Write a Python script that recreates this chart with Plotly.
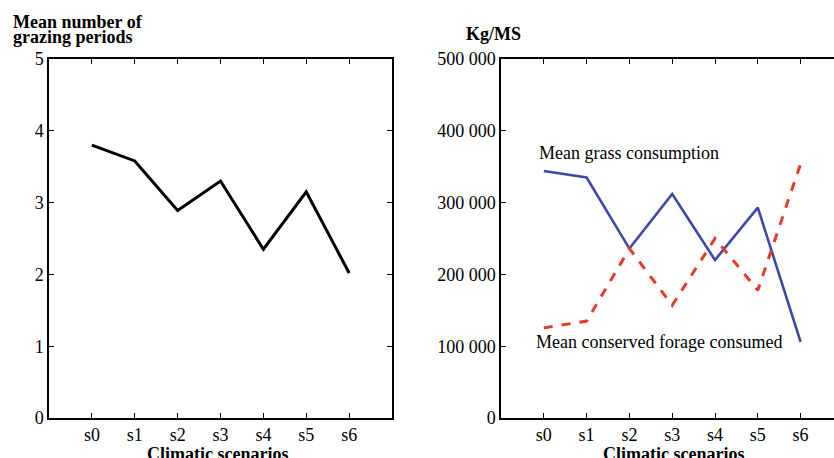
import plotly.graph_objects as go

scenarios = ["s0", "s1", "s2", "s3", "s4", "s5", "s6"]
grazing_periods = [3.80, 3.58, 2.89, 3.30, 2.35, 3.15, 2.02]
grass_consumption = [344000, 335000, 236000, 312000, 220000, 293000, 106000]
forage_consumed = [125500, 135000, 236000, 157000, 250000, 178000, 354000]
y1_ticks = [0, 1, 2, 3, 4, 5]
y2_ticks = [0, 100000, 200000, 300000, 400000, 500000]
y2_labels = ["0", "100 000", "200 000", "300 000", "400 000", "500 000"]

xpos = list(range(len(scenarios)))
W, H = 834, 458
FONT = "Liberation Serif"
ML, MR, MT = 49, 0, 59
MB = H - 418
PW = W - ML - MR
PH = H - MT - MB


def px(xp):
    return (xp - ML) / PW


def py(yp):
    return 1 - (yp - MT) / PH


fig = go.Figure()
fig.add_trace(go.Scatter(x=xpos, y=grazing_periods, mode="lines",
                         line=dict(color="black", width=3), xaxis="x", yaxis="y"))
fig.add_trace(go.Scatter(x=xpos, y=grass_consumption, mode="lines",
                         line=dict(color="#3F48A8", width=2.6), xaxis="x2", yaxis="y2"))
fig.add_trace(go.Scatter(x=xpos, y=forage_consumed, mode="lines",
                         line=dict(color="#E63A2A", width=3, dash="dash"), xaxis="x2", yaxis="y2"))

axis_common = dict(showgrid=False, zeroline=False, showline=True, linecolor="black",
                   linewidth=1.5, ticks="inside", ticklen=5, tickcolor="black", automargin=False,
                   tickfont=dict(family=FONT, size=18, color="black"))

fig.update_layout(
    width=W, height=H, margin=dict(l=ML, r=MR, t=MT, b=MB),
    paper_bgcolor="white", plot_bgcolor="white", showlegend=False,
    xaxis=dict(domain=[0, px(392)], range=[-1, 7], tickvals=xpos, ticktext=scenarios,
               mirror="ticks", anchor="y", **axis_common),
    yaxis=dict(domain=[0, 1], range=[0, 5], tickvals=y1_ticks, mirror="ticks", anchor="x",
               **axis_common),
    xaxis2=dict(domain=[px(501), 1.0], range=[-1, 6.78], tickvals=xpos, ticktext=scenarios,
                mirror="ticks", anchor="y2", **axis_common),
    yaxis2=dict(domain=[0, 1], range=[0, 500000], tickvals=y2_ticks, ticktext=y2_labels,
                mirror=False, anchor="x2", **axis_common),
)

ann_font = dict(family=FONT, size=18, color="black")
bold_font = dict(family=FONT, size=18, color="black")


def note(x, y, text, xanchor="left", font=bold_font, xref="paper", yref="paper"):
    fig.add_annotation(x=x, y=y, xref=xref, yref=yref, xanchor=xanchor, yanchor="middle",
                       text=text, showarrow=False, font=font)


note(px(11), py(21.5), "<b>Mean number of</b>")
note(px(11), py(36.5), "<b>grazing periods</b>")
note(px(464), py(34), "<b>Kg/MS</b>")
note(px(217), py(454), "<b>Climatic scenarios</b>", xanchor="center")
note(px(673), py(454), "<b>Climatic scenarios</b>", xanchor="center")
note(-0.17, 369000, "Mean grass consumption", font=ann_font, xref="x2", yref="y2")
note(-0.24, 105500, "Mean conserved forage consumed", font=ann_font, xref="x2", yref="y2")

fig.write_html("out.html", config={"displayModeBar": False},
               post_script="document.body.style.margin='0';document.body.style.overflow='hidden';")
